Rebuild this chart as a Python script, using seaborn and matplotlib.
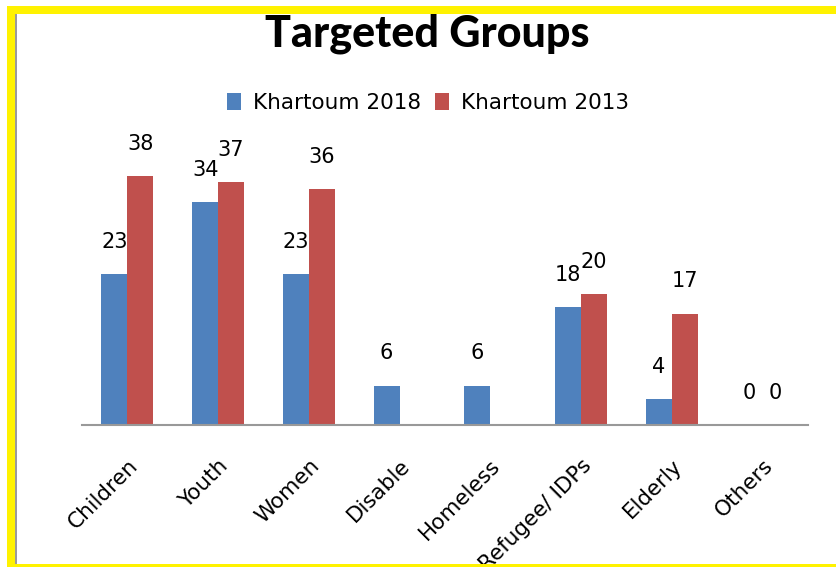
import numpy as np
import pandas as pd
import matplotlib
matplotlib.use("Agg")
import matplotlib.pyplot as plt
from matplotlib.patches import Rectangle
import seaborn as sns

# Data
categories = ["Children", "Youth", "Women", "Disable", "Homeless",
              "Refugee/ IDPs", "Elderly", "Others"]
khartoum_2018 = [23, 34, 23, 6, 6, 18, 4, 0]
khartoum_2013 = [38, 37, 36, np.nan, np.nan, 20, 17, 0]
series_names = ["Khartoum 2018", "Khartoum 2013"]
colors = ["#4F81BD", "#C0504D"]

df = pd.DataFrame({
    "group": categories * 2,
    "value": khartoum_2018 + khartoum_2013,
    "series": [series_names[0]] * len(categories) + [series_names[1]] * len(categories),
})

sns.set_theme(style="white")
plt.rcParams["font.family"] = ["DejaVu Sans"]
plt.rcParams["text.color"] = "black"

W, H = 836, 567
fig = plt.figure(figsize=(W / 100, H / 100), dpi=100)
fig.patch.set_facecolor("white")

ax = fig.add_axes([82 / W, 1 - 425 / H, (808 - 82) / W, (425 - 130) / H])
sns.barplot(data=df, x="group", y="value", hue="series", order=categories,
            hue_order=series_names, palette=colors, width=0.573, gap=0,
            saturation=1, errorbar=None, linewidth=0, ax=ax, legend=True)

ax.set_ylim(0, 45)
ax.set_xlim(-0.5, len(categories) - 0.5)
ax.set_xlabel("")
ax.set_ylabel("")
ax.set_yticks([])
for side in ["left", "right", "top"]:
    ax.spines[side].set_visible(False)
ax.spines["bottom"].set_color("#999999")
ax.spines["bottom"].set_linewidth(1.5)
ax.set_facecolor("white")

for cont in ax.containers:
    labels = ["" if np.isnan(v) else f"{v:g}" for v in cont.datavalues]
    ax.bar_label(cont, labels=labels, padding=16, fontsize=15, color="black")

ax.tick_params(axis="x", length=0, pad=22)
ax.set_xticks(range(len(categories)))
ax.set_xticklabels(categories, rotation=45, ha="right", rotation_mode="anchor",
                   fontsize=15.5, color="black")

leg = ax.legend(loc="center", bbox_to_anchor=(428 / W, 1 - 103 / H),
                bbox_transform=fig.transFigure, ncol=2, frameon=False,
                fontsize=15.5, handlelength=0.65, handleheight=0.8,
                handletextpad=0.55, columnspacing=0.65, borderpad=0,
                labelcolor="black")

fig.text(427 / W, 1 - 47 / H, "Targeted Groups", ha="center", va="baseline",
         fontsize=31, fontweight="black", color="black",
         family=["Lato", "DejaVu Sans"])

# Frame: yellow border with a thin grey inner edge on the left
yellow = "#FFF200"
def px_rect(x0, y0, x1, y1, color):
    fig.patches.append(Rectangle((x0 / W, 1 - y1 / H), (x1 - x0) / W, (y1 - y0) / H,
                                 transform=fig.transFigure, color=color, lw=0, zorder=10))

px_rect(7, 6, W, 14, yellow)
px_rect(7, 6, 15, H, yellow)
px_rect(15, 564, W, H, yellow)
px_rect(15, 14, 17, 564, "#9A9A9A")

fig.savefig("out.png", dpi=100)
